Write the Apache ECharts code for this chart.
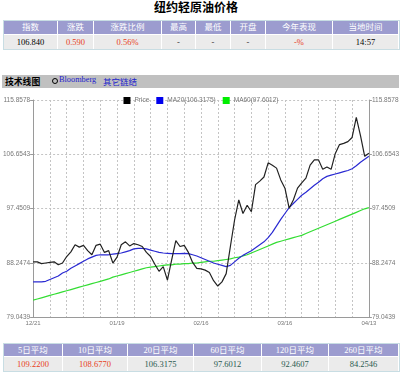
<!DOCTYPE html>
<html><head><meta charset="utf-8">
<script src="https://cdn.jsdelivr.net/npm/echarts@6/dist/echarts.min.js"></script>
<style>
html,body{margin:0;padding:0;background:#fff;width:402px;height:375px;overflow:hidden;position:relative;}
.abs{position:absolute;box-sizing:border-box;}
.title{left:0;width:392px;top:-2px;height:14px;line-height:14px;text-align:center;font:bold 12px "Noto Sans CJK SC",sans-serif;color:#000;}
.hd{background:#9c9ccf;color:#fff;font:8.5px "Liberation Serif","Noto Sans CJK SC",serif;text-align:center;}
.dt{background:#ebebeb;font:8.5px "Liberation Serif","Noto Sans CJK SC",serif;text-align:center;}
.box{border:1px solid #c8dde3;}
.bar{left:2px;width:397px;top:75px;height:13px;background:#c0c0c0;}
.bar span{position:absolute;top:0;line-height:13px;white-space:nowrap;}
</style></head>
<body>
<div class="abs title">纽约轻原油价格</div>
<div class="abs bar">
  <span style="left:3px;font:bold 8.8px 'Noto Sans CJK SC',sans-serif;color:#000;">技术线图</span>
  <span style="left:50px;top:3px;width:6px;height:6px;border:1px solid #000;border-radius:50%;box-sizing:border-box;line-height:0"></span>
  <span style="left:57px;font:8.3px 'Liberation Serif',serif;color:#2222cc;">Bloomberg</span>
  <span style="left:101px;font:8.5px 'Noto Sans CJK SC',sans-serif;color:#2222cc;">其它链结</span>
</div>
<div id="chart" class="abs" style="left:0;top:88px;width:402px;height:244px;"></div>
<script>
// ---------- data ----------
const topHeaders = ['指数','涨跌','涨跌比例','最高','最低','开盘','今年表现','当地时间'];
const topValues  = ['106.840','0.590','0.56%','-','-','-','-%','14:57'];
const maHeaders  = ['5日平均','10日平均','20日平均','60日平均','120日平均','260日平均'];
const maValues   = ['109.2200','108.6770','106.3175','97.6012','92.4607','84.2546'];

const dates = ['12/21','12/22','12/23','12/27','12/28','12/29','12/30','12/31',
 '01/03','01/04','01/05','01/06','01/07','01/10','01/11','01/12','01/13','01/14','01/17','01/18','01/19',
 '01/20','01/21','01/24','01/25','01/26','01/27','01/28','01/31','02/01','02/02','02/03','02/04',
 '02/07','02/08','02/09','02/10','02/11','02/14','02/15','02/16','02/17','02/18','02/21','02/22',
 '02/23','02/24','02/25','02/28','03/01','03/02','03/03','03/04','03/07','03/08','03/09','03/10',
 '03/11','03/14','03/15','03/16','03/17','03/18','03/21','03/22','03/23','03/24','03/25','03/28',
 '03/29','03/30','03/31','04/01','04/04','04/05','04/06','04/07','04/08','04/11','04/12','04/13'];

const price = [88.4,88.4,88.1,88.2,88.3,88.4,87.9,88.2,89.3,90.1,
 91.3,90.9,91.2,90.3,89.6,91.2,91.4,90.0,90.3,88.2,
 89.2,91.3,91.8,91.1,91.5,91.3,91.0,90.0,89.3,88.0,
 86.8,87.6,85.3,88.7,92.0,91.0,91.2,90.0,88.3,87.3,
 87.2,87.0,86.6,85.2,84.3,85.0,86.4,91.0,95.5,98.9,
 96.6,98.0,96.9,101.5,102.1,102.8,105.2,104.8,104.3,102.3,
 100.9,97.5,98.9,100.9,101.8,102.6,104.8,105.7,105.7,104.1,
 104.5,104.1,106.8,108.3,108.5,108.8,109.5,112.9,109.8,106.3,106.84];

const ma20 = [85.0,85.0,85.0,85.1,85.4,85.7,86.0,86.5,86.8,87.3,
 87.7,88.1,88.5,88.9,89.2,89.5,89.6,89.6,89.6,89.7,
 89.8,89.9,90.1,90.3,90.6,90.7,90.7,90.6,90.4,90.2,
 90.0,89.9,89.85,89.8,89.8,89.8,89.85,89.8,89.6,89.4,
 89.1,88.8,88.5,88.2,88.0,87.8,87.6,87.8,88.4,89.0,
 89.5,89.9,90.3,90.8,91.3,91.8,92.5,93.4,94.5,95.6,
 96.6,97.6,98.3,99.0,99.7,100.2,100.8,101.4,101.9,102.5,
 102.9,103.1,103.3,103.5,103.7,103.9,104.2,104.7,105.3,105.8,106.3];

const ma60 = [81.9,82.1,82.3,82.5,82.7,82.9,83.1,83.3,83.5,83.7,
 83.9,84.1,84.3,84.5,84.7,84.9,85.1,85.3,85.5,85.8,
 86.0,86.2,86.4,86.6,86.8,87.0,87.2,87.4,87.5,87.6,
 87.7,87.8,87.9,87.9,88.0,88.0,88.1,88.1,88.2,88.2,
 88.3,88.4,88.5,88.5,88.6,88.7,88.8,88.9,89.1,89.2,
 89.4,89.6,89.9,90.2,90.5,90.8,91.1,91.4,91.7,91.9,
 92.1,92.3,92.5,92.7,92.9,93.2,93.5,93.8,94.1,94.4,
 94.7,95.0,95.3,95.6,95.9,96.2,96.5,96.8,97.1,97.4,97.6];

const yTicks = ['79.0439','88.2474','97.4509','106.6543','115.8578'];
const seriesNames = ['Price','MA20(106.3175)','MA60(97.6012)'];

// ---------- tables ----------
function cell(cls, x0, x1, y, h, text, color){
  const d = document.createElement('div');
  d.className = 'abs ' + cls;
  d.style.left = x0 + 'px'; d.style.width = (x1 - x0) + 'px';
  d.style.top = y + 'px'; d.style.height = h + 'px'; d.style.lineHeight = h + 'px';
  if (color) d.style.color = color;
  d.textContent = text;
  document.body.appendChild(d);
}
function box(x0,x1,y0,y1){
  const d=document.createElement('div'); d.className='abs box';
  d.style.left=x0+'px';d.style.width=(x1-x0)+'px';d.style.top=y0+'px';d.style.height=(y1-y0)+'px';
  document.body.appendChild(d);
}
const topEdges = [4,58,94,162,196,231,266,333,399];
const topColors = ['#000','#e8401c','#e8401c','#333','#333','#333','#e8401c','#000'];
box(3,400,20,50);
topHeaders.forEach((t,i)=>cell('hd', topEdges[i], topEdges[i+1]-1, 21, 13, t));
topValues.forEach((t,i)=>cell('dt', topEdges[i], topEdges[i+1]-1, 35, 14, t, topColors[i]));

const maEdges = [4,63,128,194,262,329,399];
const maColors = ['#e8401c','#e8401c','#2a5a50','#2a5a50','#2a5a50','#2a5a50'];
box(3,400,343,372);
maHeaders.forEach((t,i)=>cell('hd', maEdges[i], maEdges[i+1]-1, 344, 12, t));
maValues.forEach((t,i)=>cell('dt', maEdges[i], maEdges[i+1]-1, 357, 14, t, maColors[i]));

// ---------- chart ----------
const chart = echarts.init(document.getElementById('chart'));
const axisGray = '#9a9a9a';
const labelStyle = {fontSize:6.5, color:'#777', fontFamily:'Liberation Sans'};
const yMin = +yTicks[0], yMax = +yTicks[4];
chart.setOption({
  animation:false,
  legend:{top:4,left:'center',icon:'rect',itemWidth:7,itemHeight:7,itemGap:7,
    textStyle:{fontSize:6.5,color:'#777',fontFamily:'Liberation Sans',padding:[0,0,0,-1]},
    data:seriesNames},
  grid:{left:33,right:31,top:12,bottom:15},
  xAxis:{type:'category',data:dates,boundaryGap:false,
    axisLine:{lineStyle:{color:axisGray,width:1}},
    axisTick:{show:false},
    axisLabel:Object.assign({interval:19,margin:3},labelStyle,{fontSize:6}),
    splitLine:{show:true,interval:3,lineStyle:{type:[2,2],color:'#c4c4c4',width:1}}},
  yAxis:[
    {type:'value',min:yMin,max:yMax,show:false},
    {type:'value',min:0,max:4,interval:1,position:'left',
      axisLine:{show:true,lineStyle:{color:axisGray}},
      axisTick:{show:true,length:3,lineStyle:{color:axisGray}},
      axisLabel:Object.assign({margin:3,formatter:v=>yTicks[Math.round(v)]},labelStyle),
      splitLine:{show:true,lineStyle:{type:[2,2],color:'#c4c4c4',width:1}}},
    {type:'value',min:0,max:4,interval:1,position:'right',
      axisLine:{show:true,lineStyle:{color:axisGray}},
      axisTick:{show:true,length:3,lineStyle:{color:axisGray}},
      axisLabel:Object.assign({margin:3,formatter:v=>yTicks[Math.round(v)]},labelStyle),
      splitLine:{show:false}}
  ],
  series:[
    {name:seriesNames[0],type:'line',data:price,yAxisIndex:0,symbol:'none',z:5,
      itemStyle:{color:'#000'},lineStyle:{color:'#222',width:1.2}},
    {name:seriesNames[1],type:'line',data:ma20,yAxisIndex:0,symbol:'none',z:4,
      itemStyle:{color:'#0000ee'},lineStyle:{color:'#2a2ad2',width:1.2}},
    {name:seriesNames[2],type:'line',data:ma60,yAxisIndex:0,symbol:'none',z:3,
      itemStyle:{color:'#00ee00'},lineStyle:{color:'#33dd33',width:1.2}}
  ]
});
</script>
</body></html>
